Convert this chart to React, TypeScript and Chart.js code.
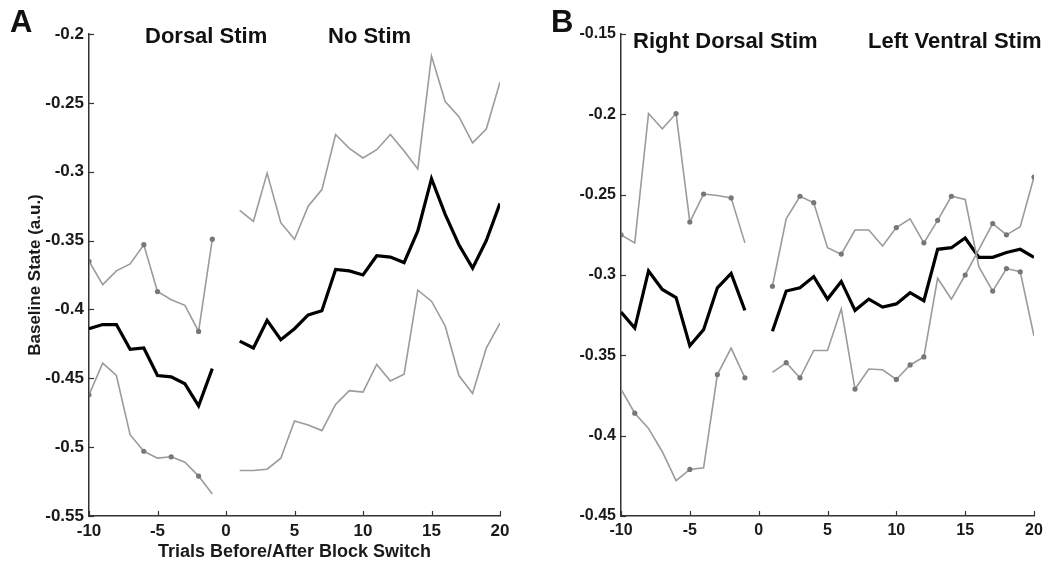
import React, { useEffect, useRef } from "react";
import { Chart, registerables } from "chart.js";

Chart.register(...registerables);

// ---------- data ----------
const trials = [-10, -9, -8, -7, -6, -5, -4, -3, -2, -1, 0, 1, 2, 3, 4, 5, 6, 7, 8, 9, 10, 11, 12, 13, 14, 15, 16, 17, 18, 19, 20];

const aMean = [-0.414, -0.411, -0.411, -0.429, -0.428, -0.448, -0.449, -0.454, -0.47, -0.443, null,
  -0.423, -0.428, -0.408, -0.422, -0.414, -0.404, -0.401, -0.371, -0.372, -0.375, -0.361, -0.362, -0.366, -0.343, -0.305, -0.331, -0.353, -0.37, -0.35, -0.323];
const aUpper = [-0.365, -0.382, -0.372, -0.367, -0.353, -0.387, -0.393, -0.397, -0.416, -0.349, null,
  -0.328, -0.336, -0.301, -0.337, -0.349, -0.325, -0.313, -0.273, -0.283, -0.29, -0.284, -0.273, -0.285, -0.298, -0.216, -0.249, -0.26, -0.279, -0.269, -0.235];
const aLower = [-0.462, -0.439, -0.448, -0.491, -0.503, -0.508, -0.507, -0.511, -0.521, -0.534, null,
  -0.517, -0.517, -0.516, -0.508, -0.481, -0.484, -0.488, -0.469, -0.459, -0.46, -0.44, -0.452, -0.447, -0.386, -0.394, -0.412, -0.448, -0.461, -0.428, -0.41];
const aUpperMarks = [-10, -6, -5, -2, -1];
const aLowerMarks = [-10, -6, -4, -2];

const bMean = [-0.323, -0.333, -0.2975, -0.309, -0.314, -0.344, -0.334, -0.308, -0.299, -0.322, null,
  -0.335, -0.31, -0.308, -0.301, -0.315, -0.304, -0.322, -0.315, -0.32, -0.318, -0.311, -0.316, -0.284, -0.283, -0.277, -0.289, -0.289, -0.286, -0.284, -0.289];
const bUpper = [-0.275, -0.28, -0.1995, -0.209, -0.1995, -0.267, -0.2496, -0.2505, -0.252, -0.28, null,
  -0.307, -0.265, -0.251, -0.255, -0.283, -0.287, -0.272, -0.272, -0.282, -0.2705, -0.265, -0.28, -0.266, -0.251, -0.253, -0.295, -0.31, -0.296, -0.298, -0.338];
const bLower = [-0.371, -0.386, -0.3955, -0.41, -0.428, -0.421, -0.42, -0.362, -0.3455, -0.364, null,
  -0.3606, -0.3546, -0.364, -0.347, -0.347, -0.321, -0.371, -0.3585, -0.359, -0.365, -0.356, -0.351, -0.302, -0.315, -0.3, -0.284, -0.268, -0.275, -0.27, -0.239];
const bUpperMarks = [-10, -6, -5, -4, -2, 1, 3, 4, 6, 10, 12, 13, 14, 17, 18, 19];
const bLowerMarks = [-9, -5, -3, -1, 2, 3, 7, 10, 11, 12, 15, 17, 18, 20];

const xTicks = [-10, -5, 0, 5, 10, 15, 20];
const aYRange = [-0.55, -0.2];
const bYRange = [-0.45, -0.15];

const yTitleText = "Baseline State (a.u.)";
const xTitleText = "Trials Before/After Block Switch";
const aConditions = ["Dorsal Stim", "No Stim"];
const bConditions = ["Right Dorsal Stim", "Left Ventral Stim"];

// ---------- styling ----------
const FONT = "'Liberation Sans', Arial, Helvetica, sans-serif";
const AXIS = "#333333";
const GRAY = "#9b9b9b";
const DOT = "#777777";

const inwardTicks = {
  id: "inwardTicks",
  afterDraw(chart: any) {
    const { ctx, chartArea, scales } = chart;
    ctx.save();
    ctx.strokeStyle = AXIS;
    ctx.lineWidth = 1.2;
    const x = scales.x;
    const y = scales.y;
    x.ticks.forEach((t: any) => {
      const px = Math.round(x.getPixelForValue(t.value)) + 0.5;
      ctx.beginPath();
      ctx.moveTo(px, chartArea.bottom);
      ctx.lineTo(px, chartArea.bottom - 5);
      ctx.stroke();
    });
    y.ticks.forEach((t: any) => {
      const py = Math.round(y.getPixelForValue(t.value)) + 0.5;
      ctx.beginPath();
      ctx.moveTo(chartArea.left, py);
      ctx.lineTo(chartArea.left + 5, py);
      ctx.stroke();
    });
    ctx.restore();
  },
};

function toPoints(vals: (number | null)[]) {
  return trials.map((x, i) => ({ x, y: vals[i] }));
}

function grayDataset(vals: (number | null)[], marks: number[]) {
  return {
    data: toPoints(vals),
    borderColor: GRAY,
    borderWidth: 1.6,
    backgroundColor: DOT,
    pointBorderColor: DOT,
    pointBackgroundColor: DOT,
    pointRadius: (ctx: any) => (marks.includes(trials[ctx.dataIndex]) ? 2.6 : 0),
    pointBorderWidth: 0,
    tension: 0,
    spanGaps: false,
  };
}

type PanelProps = {
  left: number;
  width: number;
  yAxisWidth: number;
  rightPad: number;
  tickSize: number;
  yRange: number[];
  mean: (number | null)[];
  upper: (number | null)[];
  lower: (number | null)[];
  upperMarks: number[];
  lowerMarks: number[];
  yTitle?: string;
  xTitle?: string;
};

function Panel(p: PanelProps) {
  const ref = useRef<HTMLCanvasElement | null>(null);
  useEffect(() => {
    if (!ref.current) return;
    const tickFont = { family: FONT, size: p.tickSize, weight: "bold" as const };
    const chart = new Chart(ref.current, {
      type: "line",
      data: {
        datasets: [
          grayDataset(p.upper, p.upperMarks) as any,
          grayDataset(p.lower, p.lowerMarks) as any,
          {
            data: toPoints(p.mean),
            borderColor: "#000000",
            borderWidth: 3.2,
            pointRadius: 0,
            tension: 0,
            spanGaps: false,
          } as any,
        ],
      },
      options: {
        animation: false,
        responsive: false,
        maintainAspectRatio: false,
        events: [],
        layout: { padding: { top: 34, right: p.rightPad, left: 0, bottom: 0 } },
        plugins: { legend: { display: false }, tooltip: { enabled: false } },
        scales: {
          x: {
            type: "linear",
            min: -10,
            max: 20,
            afterBuildTicks: (s: any) => {
              s.ticks = xTicks.map((v) => ({ value: v }));
            },
            ticks: { font: tickFont, color: "#1a1a1a", padding: 5, maxRotation: 0, autoSkip: false },
            grid: { display: false, drawTicks: false },
            border: { display: true, color: AXIS, width: 1.5 },
            title: p.xTitle
              ? { display: true, text: p.xTitle, font: { family: FONT, size: 18, weight: "bold" }, color: "#1a1a1a", padding: { top: 0, bottom: 0 } }
              : { display: false },
            afterFit: (s: any) => {
              s.height = 47;
            },
          },
          y: {
            type: "linear",
            min: p.yRange[0],
            max: p.yRange[1],
            ticks: {
              stepSize: 0.05,
              font: tickFont,
              color: "#1a1a1a",
              padding: 5,
              callback: (v: any) => String(Number(Number(v).toFixed(2))),
            },
            grid: { display: false, drawTicks: false },
            border: { display: true, color: AXIS, width: 1.5 },
            title: p.yTitle
              ? { display: true, text: p.yTitle, font: { family: FONT, size: 17, weight: "bold" }, color: "#1a1a1a", padding: { top: 25, bottom: 0 } }
              : { display: false },
            afterFit: (s: any) => {
              s.width = p.yAxisWidth;
            },
          },
        },
      },
      plugins: [inwardTicks],
    });
    return () => chart.destroy();
  }, []);
  return (
    <canvas
      ref={ref}
      width={p.width}
      height={563}
      style={{ position: "absolute", left: p.left, top: 0, width: p.width, height: 563 }}
    />
  );
}

const labelStyle: React.CSSProperties = {
  position: "absolute",
  fontFamily: FONT,
  fontWeight: "bold",
  fontSize: 22,
  lineHeight: "22px",
  color: "#111",
  whiteSpace: "nowrap",
};

export default function App() {
  return (
    <div style={{ position: "absolute", left: 0, top: 0, width: 1050, height: 563, background: "#fff", overflow: "hidden" }}>
      <Panel
        left={0}
        width={520}
        yAxisWidth={89}
        rightPad={20}
        tickSize={17}
        yRange={aYRange}
        mean={aMean}
        upper={aUpper}
        lower={aLower}
        upperMarks={aUpperMarks}
        lowerMarks={aLowerMarks}
        yTitle={yTitleText}
        xTitle={xTitleText}
      />
      <Panel
        left={530}
        width={520}
        yAxisWidth={91}
        rightPad={16}
        tickSize={16}
        yRange={bYRange}
        mean={bMean}
        upper={bUpper}
        lower={bLower}
        upperMarks={bUpperMarks}
        lowerMarks={bLowerMarks}
      />
      <div style={{ ...labelStyle, fontSize: 31, lineHeight: "31px", left: 10, top: 6 }}>A</div>
      <div style={{ ...labelStyle, fontSize: 31, lineHeight: "31px", left: 551, top: 6 }}>B</div>
      <div style={{ ...labelStyle, left: 145, top: 25 }}>{aConditions[0]}</div>
      <div style={{ ...labelStyle, left: 328, top: 25 }}>{aConditions[1]}</div>
      <div style={{ ...labelStyle, left: 633, top: 30 }}>{bConditions[0]}</div>
      <div style={{ ...labelStyle, left: 868, top: 30 }}>{bConditions[1]}</div>
    </div>
  );
}
